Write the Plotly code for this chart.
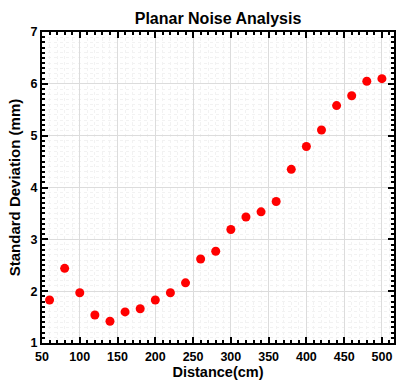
import plotly.graph_objects as go

distance = [60, 80, 100, 120, 140, 160, 180, 200, 220, 240, 260, 280,
            300, 320, 340, 360, 380, 400, 420, 440, 460, 480, 500]
std_dev = [1.83, 2.44, 1.97, 1.54, 1.42, 1.60, 1.66, 1.83, 1.97, 2.16, 2.62, 2.77,
           3.19, 3.43, 3.53, 3.73, 4.35, 4.79, 5.11, 5.58, 5.77, 6.05, 6.10]

title_text = "Planar Noise Analysis"
x_title = "Distance(cm)"
y_title = "Standard Deviation (mm)"
x_ticks = [50, 100, 150, 200, 250, 300, 350, 400, 450, 500]
y_ticks = [1, 2, 3, 4, 5, 6, 7]

FONT = "Liberation Sans, Arial, sans-serif"

fig = go.Figure()
fig.add_trace(go.Scatter(
    x=distance, y=std_dev, mode="markers",
    marker=dict(color="#ff0000", size=9, line=dict(width=0)),
    showlegend=False,
))

axis_common = dict(
    showline=True, linecolor="black", linewidth=2, mirror="ticks",
    ticks="inside", ticklen=6, tickwidth=1.5, tickcolor="black",
    showgrid=True, gridcolor="#dcdcdc", gridwidth=1,
    zeroline=False,
    tickfont=dict(family=FONT, size=12.5, color="black", weight="bold"),
)

fig.update_xaxes(
    range=[50, 516], tickvals=x_ticks,
    minor=dict(dtick=10, ticks="inside", ticklen=3, tickcolor="black",
               showgrid=True, gridcolor="#f2f2f2", griddash="dot", gridwidth=1),
    title=dict(text=x_title, font=dict(family=FONT, size=14.5, color="black", weight="bold"),
               standoff=0),
    ticklabelstandoff=1,
    **axis_common,
)
fig.update_yaxes(
    range=[1, 7], tickvals=y_ticks,
    minor=dict(dtick=0.1, ticks="inside", ticklen=3, tickcolor="black",
               showgrid=True, gridcolor="#f2f2f2", griddash="dot", gridwidth=1),
    title=dict(text=y_title, font=dict(family=FONT, size=15, color="black", weight="bold"),
               standoff=6),
    **axis_common,
)

fig.update_layout(
    width=396, height=381,
    margin=dict(l=42, r=0, t=32, b=38),
    paper_bgcolor="white", plot_bgcolor="white",
    title=dict(text=title_text, x=0.5, xanchor="center", xref="paper",
               y=1 - 18/381, yanchor="middle", yref="container",
               font=dict(family=FONT, size=16, color="black", weight="bold")),
)

fig.write_html("out.html")
